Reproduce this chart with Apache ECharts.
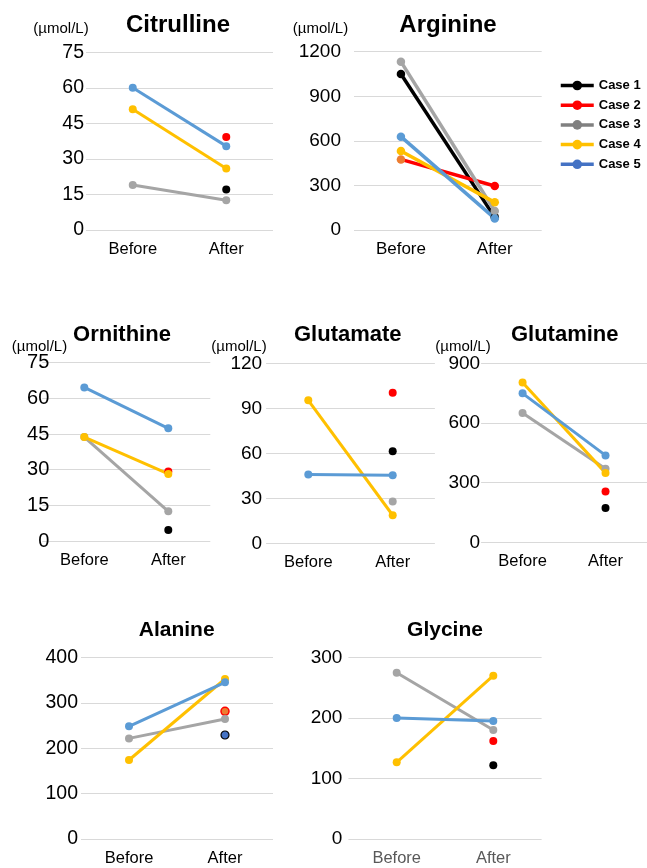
<!DOCTYPE html>
<html>
<head>
<meta charset="utf-8">
<script src="https://cdn.jsdelivr.net/npm/echarts@6/dist/echarts.min.js"></script>
<style>html,body{margin:0;padding:0;background:#fff;}#c{width:647px;height:868px;}</style>
</head>
<body>
<div id="c"></div>
<script>
// ---- data ----
const categories = ['Before', 'After'];
const caseNames = ['Case 1', 'Case 2', 'Case 3', 'Case 4', 'Case 5'];
// each row: [Before, After] for Case 1..5 (null = not measured)
const citrulline = [[null, 17.1], [null, 39.3], [19, 12.6], [51, 26], [60, 35.4]];
const arginine   = [[1050, 85], [475, 296], [1133, 128], [532, 186], [628, 78]];
const ornithine  = [[null, 4.6], [null, 29.2], [43.7, 12.5], [43.7, 28.2], [64.6, 47.4]];
const glutamate  = [[null, 61.3], [null, 100.4], [null, 27.8], [95.3, 18.7], [45.8, 45.3]];
const glutamine  = [[null, 173], [null, 255], [650, 370], [804, 349], [749, 437]];
const alanine    = [[null, 229.4], [null, 281.6], [222, 264.7], [174.3, 353], [248.5, 345.6]];
const glycine    = [[null, 122], [null, 162], [275.2, 180.3], [126.9, 270.2], [200.2, 195.2]];
// tick labels
const citrullineTicks = [0, 15, 30, 45, 60, 75];
const arginineTicks   = [0, 300, 600, 900, 1200];
const ornithineTicks  = [0, 15, 30, 45, 60, 75];
const glutamateTicks  = [0, 30, 60, 90, 120];
const glutamineTicks  = [0, 300, 600, 900];
const alanineTicks    = [0, 100, 200, 300, 400];
const glycineTicks    = [0, 100, 200, 300];
const unitText = '(µmol/L)';

// ---- styles / layout ----
const lineColors = ['#000000', '#ff0000', '#a5a5a5', '#ffc000', '#5b9bd5'];
const legendColors = ['#000000', '#ff0000', '#808080', '#ffc000', '#4472c4'];
const FONT = 'Liberation Sans, Arial, sans-serif';

const panels = [
  {title: 'Citrulline', values: citrulline, ticks: citrullineTicks, grid: {left: 86, top: 52.3, width: 187, height: 177.7},
   titlePos: [178, 25], titleSize: 24, unitPos: [61, 29], yFont: 19.5, yMargin: 2, xFont: 16.5, xColor: '#000', sym: 8, lw: 3},
  {title: 'Arginine', values: arginine, ticks: arginineTicks, grid: {left: 354, top: 51.7, width: 187.7, height: 178.3},
   titlePos: [448, 25], titleSize: 24, unitPos: [320.5, 29], yFont: 19, yMargin: 13, xFont: 17, xColor: '#000', sym: 8.5, lw: 3.5},
  {title: 'Ornithine', values: ornithine, ticks: ornithineTicks, grid: {left: 42.3, top: 362.7, width: 168, height: 178.3},
   titlePos: [122, 335], titleSize: 22, unitPos: [39.5, 347], yFont: 20, yMargin: -7, xFont: 16.5, xColor: '#000', sym: 8, lw: 3},
  {title: 'Glutamate', values: glutamate, ticks: glutamateTicks, grid: {left: 266.1, top: 363.3, width: 168.8, height: 180},
   titlePos: [347.8, 335], titleSize: 22, unitPos: [239, 347], yFont: 19, yMargin: 4, xFont: 16.5, xColor: '#000', sym: 8, lw: 3},
  {title: 'Glutamine', values: glutamine, ticks: glutamineTicks, grid: {left: 481.1, top: 363.3, width: 168.8, height: 179},
   titlePos: [564.7, 335], titleSize: 22, unitPos: [463, 347], yFont: 19, yMargin: 1, xFont: 16.5, xColor: '#000', sym: 8, lw: 3},
  {title: 'Alanine', values: alanine, ticks: alanineTicks, grid: {left: 81, top: 657.7, width: 192, height: 181.3},
   titlePos: [176.7, 630.5], titleSize: 21, unitPos: null, yFont: 19.5, yMargin: 3, xFont: 16.5, xColor: '#000', sym: 8, lw: 3},
  {title: 'Glycine', values: glycine, ticks: glycineTicks, grid: {left: 348.4, top: 657.7, width: 193.2, height: 181.3},
   titlePos: [445, 630.5], titleSize: 21, unitPos: null, yFont: 19, yMargin: 6, xFont: 16.5, xColor: '#595959', sym: 8, lw: 3}
];

// individual marker style exceptions seen in the original
const markerOverrides = [
  {panel: 1, cs: 1, idx: 0, style: {color: '#ed7d31'}},
  {panel: 5, cs: 0, idx: 1, style: {color: '#4472c4', borderColor: '#000', borderWidth: 1.2}},
  {panel: 5, cs: 1, idx: 1, style: {color: '#ed7d31', borderColor: '#ff0000', borderWidth: 1.5}}
];

const grids = [], xAxes = [], yAxes = [], series = [], graphics = [];
panels.forEach((p, i) => {
  grids.push(Object.assign({containLabel: false}, p.grid));
  xAxes.push({
    type: 'category', gridIndex: i, data: categories, boundaryGap: true,
    axisLine: {show: false}, axisTick: {show: false}, splitLine: {show: false},
    axisLabel: {fontSize: p.xFont, color: p.xColor, fontFamily: FONT, margin: 11}
  });
  const t = p.ticks;
  yAxes.push({
    type: 'value', gridIndex: i, min: t[0], max: t[t.length - 1], interval: t[1] - t[0],
    axisLine: {show: false}, axisTick: {show: false},
    splitLine: {show: true, lineStyle: {color: '#d9d9d9', width: 1}},
    axisLabel: {fontSize: p.yFont, color: '#000', fontFamily: FONT, margin: p.yMargin, formatter: v => String(v)}
  });
  p.values.forEach((vals, j) => {
    const data = vals.map((v, k) => {
      const o = markerOverrides.find(m => m.panel === i && m.cs === j && m.idx === k);
      return o ? {value: v, itemStyle: o.style} : v;
    });
    series.push({
      type: 'line', name: caseNames[j], xAxisIndex: i, yAxisIndex: i, data: data,
      symbol: 'circle', symbolSize: p.sym, showSymbol: true, connectNulls: false,
      lineStyle: {color: lineColors[j], width: p.lw},
      itemStyle: {color: lineColors[j]},
      emphasis: {disabled: true}
    });
  });
  graphics.push({
    type: 'text', x: p.titlePos[0], y: p.titlePos[1], silent: true,
    style: {text: p.title, font: 'bold ' + p.titleSize + 'px ' + FONT, fill: '#000', align: 'center', verticalAlign: 'middle'}
  });
  if (p.unitPos) {
    graphics.push({
      type: 'text', x: p.unitPos[0], y: p.unitPos[1], silent: true,
      style: {text: unitText, font: '15px ' + FONT, fill: '#000', align: 'center', verticalAlign: 'middle'}
    });
  }
});

const chart = echarts.init(document.getElementById('c'), null, {renderer: 'canvas'});
chart.setOption({
  animation: false,
  backgroundColor: '#fff',
  grid: grids, xAxis: xAxes, yAxis: yAxes, series: series,
  graphic: graphics,
  legend: {
    orient: 'vertical', left: 554, top: 74, itemWidth: 33, itemHeight: 12, itemGap: 6.7,
    textStyle: {fontSize: 13, fontWeight: 'bold', color: '#000', fontFamily: FONT},
    selectedMode: false,
    data: caseNames.map((n, j) => ({name: n, itemStyle: {color: legendColors[j]}, lineStyle: {color: legendColors[j], width: 3.5}}))
  }
});
</script>
</body>
</html>
